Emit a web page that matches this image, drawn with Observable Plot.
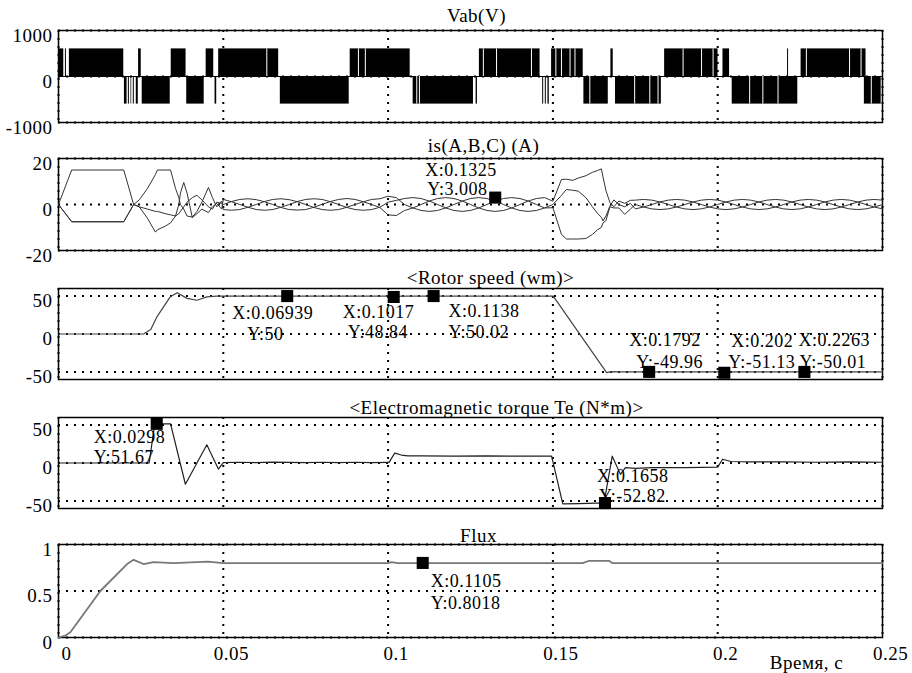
<!DOCTYPE html>
<html><head><meta charset="utf-8">
<script src="https://cdn.jsdelivr.net/npm/d3@7"></script>
<script src="https://cdn.jsdelivr.net/npm/@observablehq/plot@0.6"></script>
<style>
html,body{margin:0;padding:0;background:#fff;}
#chart{position:relative;width:912px;height:673px;overflow:hidden;}
#chart svg{position:absolute;left:0;top:0;}
</style></head><body><div id="chart"></div>
<script>
// ---------- shared axis data ----------
const xDomain = [0, 0.25];
const xTicks = [0, 0.05, 0.1, 0.15, 0.2, 0.25];
const xLabel = "Время, с";
const titles = ["Vab(V)", "is(A,B,C) (A)", "<Rotor speed (wm)>", "<Electromagnetic torque Te (N*m)>", "Flux"];
const yDomains = [[-1000, 1000], [-20, 20], [-60, 60], [-60, 60], [0, 1]];
const yTicks = [[-1000, 0, 1000], [-20, 0, 20], [-50, 0, 50], [-50, 0, 50], [0, 0.5, 1]];

// ---------- Vab (PWM line voltage) blocks ----------
const vabStart = [0.0003,0.0021,0.0033,0.0200,0.0212,0.0220,0.0227,0.0236,0.0243,0.0254,0.0342,0.0389,0.0448,0.0475,0.0486,0.0673,0.0885,0.1076,0.1267,0.1277,0.1469,0.1477,0.1485,0.1496,0.1594,0.1676,0.1690,0.1839,0.2016,0.2044,0.2212,0.2253,0.2445];
const vabEnd   = [0.0016,0.0024,0.0198,0.0208,0.0215,0.0222,0.0230,0.0242,0.0251,0.0339,0.0387,0.0442,0.0471,0.0480,0.0668,0.0882,0.1067,0.1259,0.1271,0.1461,0.1472,0.1480,0.1489,0.1592,0.1668,0.1683,0.1829,0.2001,0.2036,0.2243,0.2215,0.2450,0.2496];
const vabLevel = [600,600,600,-600,-600,-600,-600,-600,600,-600,600,-600,600,-600,600,-600,600,-600,-600,600,-600,-600,-600,600,-600,600,-600,600,600,-600,600,600,-600];
const vabGapT     = [0.0632,0.0910,0.0931,0.1087,0.1095,0.1289,0.1329,0.1435,0.1509,0.1526,0.1552,0.1567,0.1612,0.1748,0.1794,0.1819,0.1895,0.1951,0.1986,0.2097,0.2137,0.2183,0.2269,0.2400,0.2435,0.2466];
const vabGapLevel = [600,600,600,-600,-600,600,600,600,600,600,600,600,-600,-600,-600,-600,600,600,600,-600,-600,-600,600,600,600,-600];

// ---------- stator currents ----------
const tI = [0,0.004,0.0198,0.0228,0.0245,0.027,0.0294,0.030,0.0324,0.034,0.0355,0.0365,0.037,0.038,0.039,0.0406,0.042,0.0435,0.0455,0.0467,0.048,0.0495,
  0.05,0.0525,0.055,0.0575,0.06,0.0625,0.065,0.0675,0.07,0.0725,0.075,0.0775,0.08,0.0825,0.085,0.0875,0.09,0.0925,0.095,0.0975,
  0.1,0.1025,0.105,0.1075,0.11,0.1125,0.115,0.1175,0.12,0.1225,0.125,0.1275,0.13,0.1325,0.135,0.1375,0.14,0.1425,0.145,0.1475,
  0.150,0.1526,0.1541,0.156,0.1577,0.160,0.162,0.1636,0.1647,0.1652,0.1661,0.1673,0.1685,0.170,0.1718,0.1735,
  0.175,0.1775,0.18,0.1825,0.185,0.1875,0.19,0.1925,0.195,0.1975,0.2,0.2025,0.205,0.2075,0.21,0.2125,0.215,0.2175,0.22,0.2225,0.225,0.2275,0.23,0.2325,0.235,0.2375,0.24,0.2425,0.245,0.2475,0.25];
const iA = [0,15,15,0,-1,-2,-3,-3,-4,-4.5,-5,-4,-3,-1,1,3,4,2,-1,-2,1,0.5,
  0,1.3,2.2,2.5,2.1,1.2,0,-1.3,-2.2,-2.4,-2.2,-1.2,0.1,1.3,2.2,2.6,2.2,1.2,0,-1.3,
  -4.5,-4.8,-2.6,-1.5,0,1.5,2.6,3,2.6,1.5,0,-1.5,-2.6,-3,-2.6,-1.5,0,1.5,2.6,3,
  1.4,10.9,11,10.5,11.5,12.5,14,14.8,15.5,12,6,0.9,-1,1.5,0.5,1.8,
  1.9,2.2,1.9,1.1,0,-1.1,-1.9,-2.2,-1.9,-1.1,0,1.1,1.9,2.2,1.9,1.1,0,-1.1,-1.9,-2.2,-1.9,-1.1,0,1.1,1.9,2.2,1.9,1.1,0,-1.1,-1.9];
const iB = [0,-7.5,-7.5,0,2,7,13,15,15,15,7,3,0,-2,-5,-5.5,-3,1,7.4,3,-1,1.5,
  -2.2,-2.5,-2.2,-1.2,0,1.3,2.2,2.5,2.1,1.2,0,-1.3,-2.2,-2.5,-2.2,-1.2,0,1.2,2.2,2.5,
  3.6,3,0,-1.5,-2.6,-3,-2.6,-1.5,0,1.5,2.6,3,2.6,1.5,0,-1.5,-2.6,-3,-2.6,-1.5,
  0,4,6.5,6.2,5.8,3,-1,-4,-5.5,-7.2,-5,-0.7,2,0,-1,0.5,
  -1.9,-1.1,0,1.1,1.9,2.2,1.9,1.1,0,-1.1,-1.9,-2.2,-1.9,-1.1,0,1.1,1.9,2.2,1.9,1.1,0,-1.1,-1.9,-2.2,-1.9,-1.1,0,1.1,1.9,2.2,1.9];
const iC = [0,-7.5,-7.5,0,-1,-6,-12,-11,-9.4,-8,-5,0,5,9.6,5,-5.7,-4,-2,-3.5,-1,0.5,-2,
  2.2,1.2,0,-1.2,-2.2,-2.5,-2.2,-1.2,0,1.3,2.2,2.5,2.2,1.2,0,-1.3,-2.2,-2.5,-2.2,-1.2,
  1,1.8,2.6,3,2.6,1.5,0,-1.5,-2.6,-3,-2.6,-1.5,0,1.5,2.6,3,2.6,1.5,0,-1.5,
  -1.4,-13,-15,-15,-15,-14.8,-13,-10.9,-10,-8,-7,-1,-1.5,-1.5,-4.3,-2,
  0,-1.1,-1.9,-2.2,-1.9,-1.1,0,1.1,1.9,2.2,1.9,1.1,0,-1.1,-1.9,-2.2,-1.9,-1.1,0,1.1,1.9,2.2,1.9,1.1,0,-1.1,-1.9,-2.2,-1.9,-1.1,0];

// ---------- rotor speed ----------
const tW = [0,0.0258,0.028,0.0299,0.0339,0.036,0.039,0.042,0.045,0.048,0.1,0.1017,0.104,0.1501,0.1663,0.1677,0.17,0.2,0.202,0.205,0.25];
const wm = [0,0,6,23,49,54.5,47,44.5,49,50,50,48.84,50,50,-51,-49.7,-50,-50,-51.13,-50,-50];

// ---------- electromagnetic torque ----------
const tT = [0,0.0275,0.0292,0.034,0.0385,0.045,0.0485,0.05,0.055,0.06,0.065,0.07,0.075,0.08,0.085,0.09,0.095,0.1,0.1003,0.102,0.104,0.106,0.11,0.12,0.13,0.14,0.1496,0.153,0.158,0.163,0.1655,0.168,0.1705,0.172,0.175,0.18,0.19,0.2,0.2015,0.204,0.21,0.22,0.23,0.24,0.25];
const Te = [0,0,51.67,51.67,-28,24,-8,0.5,1,0.5,1.2,0.8,0.5,1,0.6,1,0.5,0.8,0.8,13,10.5,9.5,9.5,9,9.5,9,9,-54,-53.5,-53,-52.82,9,-15,-6,-7,-6,-6,-5.5,5,2,1.5,1.5,1,1.5,1];

// ---------- flux ----------
const tF = [0,0.002,0.0036,0.0127,0.0208,0.0228,0.0258,0.0288,0.035,0.0453,0.05,0.1,0.101,0.103,0.159,0.161,0.167,0.168,0.25];
const flux = [0,0.02,0.057,0.5,0.79,0.835,0.79,0.81,0.80,0.815,0.80,0.80,0.81,0.80,0.80,0.825,0.825,0.80,0.80];

// ---------- data tips ----------
const tipsIx = [0.1325], tipsIy = [3.008];
const tipsWx = [0.06939, 0.1017, 0.1138, 0.1792, 0.202, 0.2263];
const tipsWy = [50, 48.84, 50.02, -49.96, -51.13, -50.01];
const tipsTx = [0.0298, 0.1658], tipsTy = [51.67, -52.82];
const tipsFx = [0.1105], tipsFy = [0.8018];

// ---------- layout (pixels) ----------
const W = 912, H = 673;
const frames = [[30,122],[158,250],[288,379],[417,508],[544,637]];
const titleOff = [[6,-15],[13,-13],[20,-11],[26,-10],[8,-9]];
const tipOff = [
  [],
  [[-70,-27,-68,-8]],
  [[-55,17,-40,38],[-51,15,-46,35],[15,15,15,36],[-20,-32,-13,-10],[7,-32,4,-11],[-6,-32,-5,-10]],
  [[-63,13,-63,33],[-8,-27,-6,-7]],
  [[8,18,8,40]]
];

const dotted = {stroke: "black", strokeWidth: 2, strokeDasharray: "2,6"};

function tipMarks(xs, ys, offs) {
  const marks = [];
  const rows = xs.map((x, i) => ({x, y: ys[i]}));
  marks.push(Plot.dot(rows, {x: "x", y: "y", symbol: "square", r: 6.8, fill: "black", stroke: "none"}));
  rows.forEach((r, i) => {
    const o = offs[i];
    marks.push(Plot.text([r], {x: "x", y: "y", text: d => "X:" + d.x, textAnchor: "start", lineAnchor: "middle", dx: o[0], dy: o[1], fill: "black", fontSize: 18}));
    marks.push(Plot.text([r], {x: "x", y: "y", text: d => "Y:" + d.y, textAnchor: "start", lineAnchor: "middle", dx: o[2], dy: o[3], fill: "black", fontSize: 18}));
  });
  return marks;
}

function panel(p, dataMarks, extra = []) {
  const [top, bottom] = frames[p];
  return Plot.plot({
    width: W, height: H,
    marginLeft: 58, marginRight: 30, marginTop: top, marginBottom: H - bottom,
    x: {domain: xDomain, axis: null, label: null},
    y: {domain: yDomains[p], axis: null, label: null},
    style: {fontFamily: "'Liberation Serif', 'Times New Roman', serif", fontSize: "19px", letterSpacing: "0.5px", background: "transparent", overflow: "visible", color: "black"},
    marks: [
      Plot.ruleY(yTicks[p], dotted),
      Plot.ruleX(xTicks, dotted),
      Plot.frame({stroke: "black", strokeWidth: 1.5}),
      ...dataMarks,
      Plot.axisY(yTicks[p], {tickSize: 0, tickPadding: 6, dy: 5, label: null, tickFormat: d => String(d), fill: "black"}),
      Plot.text([titles[p]], {frameAnchor: "top", dx: titleOff[p][0], dy: titleOff[p][1], lineAnchor: "middle", fill: "black"}),
      ...extra
    ]
  });
}

const chart = document.getElementById("chart");

// Panel 1: Vab
const vabRows = vabStart.map((s, i) => ({x1: s, x2: vabEnd[i], v: vabLevel[i]}));
const gapRows = vabGapT.map((t, i) => ({t, v: vabGapLevel[i]}));
chart.append(panel(0, [
  Plot.ruleY([0], {stroke: "black", strokeWidth: 1}),
  Plot.rect(vabRows, {x1: "x1", x2: "x2", y1: 0, y2: "v", fill: "black"}),
  Plot.ruleX(gapRows, {x: "t", y1: 0, y2: "v", stroke: "white", strokeWidth: 1})
]));

// Panel 2: currents
const curRows = [];
tI.forEach((t, i) => {
  curRows.push({t, v: iA[i], ph: "A"});
  curRows.push({t, v: iB[i], ph: "B"});
  curRows.push({t, v: iC[i], ph: "C"});
});
chart.append(panel(1, [
  Plot.line(curRows, {x: "t", y: "v", z: "ph", stroke: "#333", strokeWidth: 1})
], tipMarks(tipsIx, tipsIy, tipOff[1])));

// Panel 3: speed
chart.append(panel(2, [
  Plot.line(tW.map((t, i) => ({t, v: wm[i]})), {x: "t", y: "v", stroke: "#444", strokeWidth: 1.2})
], tipMarks(tipsWx, tipsWy, tipOff[2])));

// Panel 4: torque
chart.append(panel(3, [
  Plot.line(tT.map((t, i) => ({t, v: Te[i]})), {x: "t", y: "v", stroke: "#222", strokeWidth: 1.2})
], tipMarks(tipsTx, tipsTy, tipOff[3])));

// Panel 5: flux + x axis
chart.append(panel(4, [
  Plot.line(tF.map((t, i) => ({t, v: flux[i]})), {x: "t", y: "v", stroke: "#777", strokeWidth: 1.8})
], [
  ...tipMarks(tipsFx, tipsFy, tipOff[4]),
  Plot.axisX(xTicks, {tickSize: 0, tickPadding: 9, dx: 8, label: null, tickFormat: d => String(d), fill: "black"}),
  Plot.text([xLabel], {frameAnchor: "bottom-right", dx: -76, dy: 25, textAnchor: "middle", lineAnchor: "middle", fill: "black"})
]));
</script></body></html>
